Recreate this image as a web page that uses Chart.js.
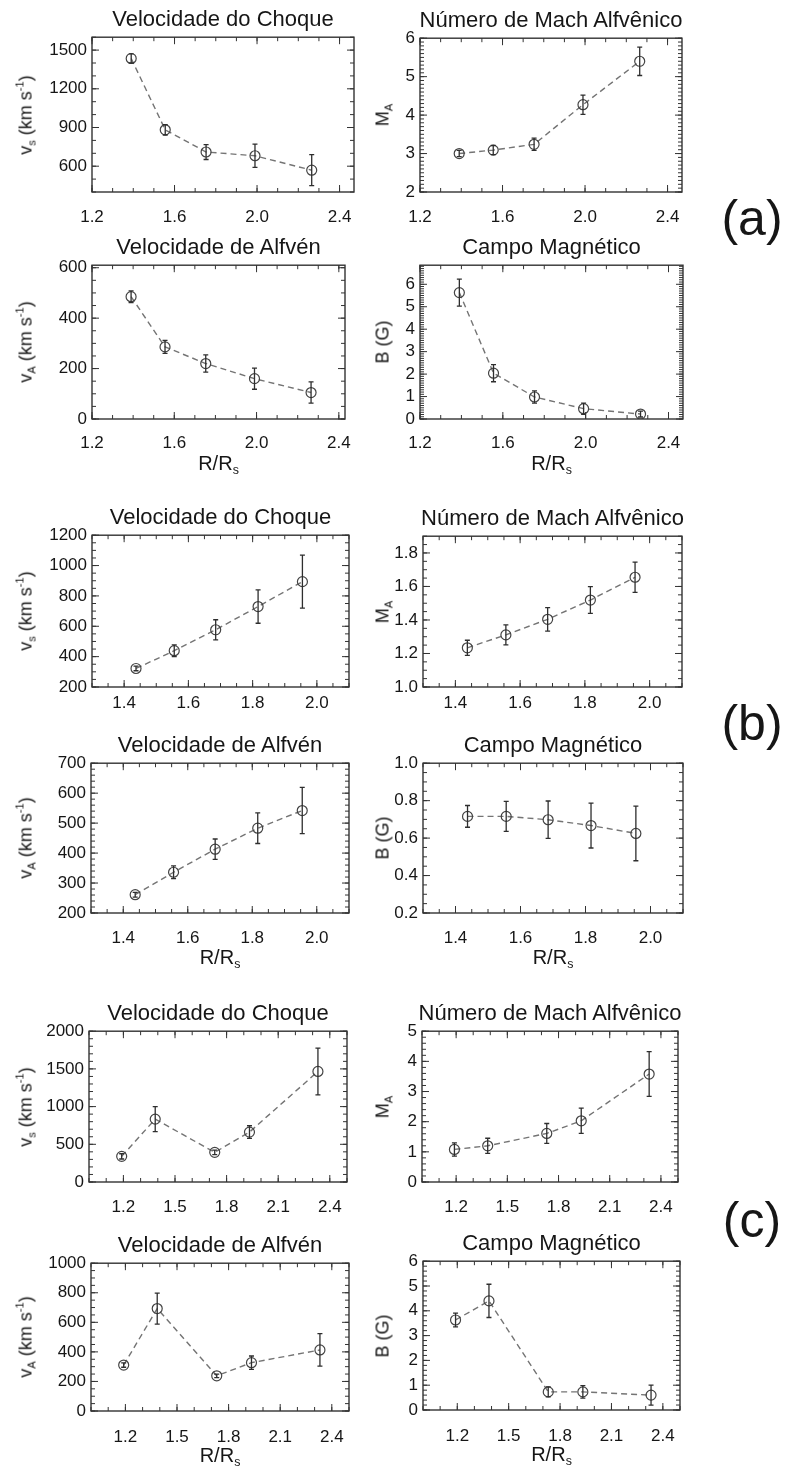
<!DOCTYPE html>
<html>
<head>
<meta charset="utf-8">
<script src="https://cdn.jsdelivr.net/npm/chart.js@4.4.1/dist/chart.umd.min.js"></script>
<style>
  body { margin: 0; background: #fff; width: 785px; height: 1472px; position: relative; overflow: hidden;
         font-family: "Liberation Sans", Arial, Helvetica, sans-serif; color: #161616; }
  canvas { position: absolute; }
  .tit { position: absolute; font-size: 22px; white-space: nowrap; transform: translate(-50%, -50%); }
  .ylab { position: absolute; font-size: 18px; white-space: nowrap; transform: translate(-50%, -50%) rotate(-90deg); }
  .xlab { position: absolute; font-size: 20px; white-space: nowrap; transform: translate(-50%, -50%); }
  .tag { position: absolute; font-size: 50px; transform: translate(-50%, -50%); }
  sub { font-size: 62%; vertical-align: -0.35em; line-height: 0; }
  sup { font-size: 62%; vertical-align: 0.7em; line-height: 0; }
</style>
</head>
<body>
<script>
// ---- (a) ----
const rA = [1.39, 1.555, 1.753, 1.99, 2.265];
const choqueA = [1435, 882, 710, 681, 569];
const errChoqueA = [35, 40, 58, 90, 120];
const machA = [3.0, 3.09, 3.24, 4.27, 5.4];
const errMachA = [0.08, 0.12, 0.16, 0.25, 0.37];
const alfvenA = [485, 286, 220, 160, 105];
const errAlfvenA = [23, 26, 34, 42, 42];
const campoA = [5.63, 2.04, 0.98, 0.46, 0.22];
const errCampoA = [0.6, 0.38, 0.27, 0.25, 0.13];

// ---- (b) ----
const rB = [1.437, 1.556, 1.685, 1.817, 1.955];
const choqueB = [322, 439, 577, 730, 894];
const errChoqueB = [15, 38, 66, 110, 175];
const machB = [1.234, 1.311, 1.404, 1.519, 1.655];
const errMachB = [0.045, 0.06, 0.07, 0.08, 0.09];
const alfvenB = [261, 336, 413, 483, 542];
const errAlfvenB = [8, 21, 34, 51, 77];
const campoB = [0.716, 0.716, 0.698, 0.667, 0.625];
const errCampoB = [0.058, 0.08, 0.1, 0.12, 0.146];

// ---- (c) ----
const rC = [1.19, 1.385, 1.731, 1.933, 2.331];
const choqueC = [340, 834, 393, 662, 1466];
const errChoqueC = [35, 165, 30, 84, 310];
const machC = [1.08, 1.2, 1.61, 2.03, 3.58];
const errMachC = [0.22, 0.25, 0.33, 0.42, 0.74];
const alfvenC = [311, 693, 238, 327, 413];
const errAlfvenC = [15, 105, 12, 45, 110];
const campoC = [3.63, 4.4, 0.73, 0.73, 0.6];
const errCampoC = [0.28, 0.67, 0.2, 0.25, 0.4];

// ticks
const xTicksA = [1.2, 1.6, 2.0, 2.4];
const xTicksB = [1.4, 1.6, 1.8, 2.0];
const xTicksC = [1.2, 1.5, 1.8, 2.1, 2.4];
const tChoqueA = [600, 900, 1200, 1500];
const tMachA = [2, 3, 4, 5, 6];
const tAlfvenA = [0, 200, 400, 600];
const tCampoA = [0, 1, 2, 3, 4, 5, 6];
const tChoqueB = [200, 400, 600, 800, 1000, 1200];
const tMachB = [1.0, 1.2, 1.4, 1.6, 1.8];
const tAlfvenB = [200, 300, 400, 500, 600, 700];
const tCampoB = [0.2, 0.4, 0.6, 0.8, 1.0];
const tChoqueC = [0, 500, 1000, 1500, 2000];
const tMachC = [0, 1, 2, 3, 4, 5];
const tAlfvenC = [0, 200, 400, 600, 800, 1000];
const tCampoC = [0, 1, 2, 3, 4, 5, 6];

const tChoque = 'Velocidade do Choque';
const tMach = 'Número de Mach Alfvênico';
const tAlfven = 'Velocidade de Alfvén';
const tCampo = 'Campo Magnético';
const labVs = 'v<sub>s</sub> (km s<sup>-1</sup>)';
const labMa = 'M<sub>A</sub>';
const labVa = 'v<sub>A</sub> (km s<sup>-1</sup>)';
const labB = 'B (G)';
const labR = 'R/R<sub>s</sub>';

Chart.defaults.font.family = '"Liberation Sans", Arial, Helvetica, sans-serif';
Chart.defaults.font.size = 17;
Chart.defaults.color = '#161616';

// caixa fechada com marcas para dentro + barras de erro
const moldura = {
  id: 'moldura',
  afterDatasetsDraw(chart, args, o) {
    const { ctx, chartArea: a } = chart;
    const sx = chart.scales.x, sy = chart.scales.y;
    const pts = chart.data.datasets[0].data;
    ctx.save();
    ctx.strokeStyle = '#2e2e2e';
    ctx.lineWidth = 1.3;
    pts.forEach((p, i) => {
      const px = sx.getPixelForValue(p.x);
      const y1 = sy.getPixelForValue(p.y - o.err[i]);
      const y2 = sy.getPixelForValue(p.y + o.err[i]);
      ctx.beginPath();
      ctx.moveTo(px, y1); ctx.lineTo(px, y2);
      ctx.moveTo(px - 2.5, y1); ctx.lineTo(px + 2.5, y1);
      ctx.moveTo(px - 2.5, y2); ctx.lineTo(px + 2.5, y2);
      ctx.stroke();
    });
    ctx.strokeStyle = '#333';
    ctx.lineWidth = 1.4;
    ctx.strokeRect(a.left, a.top, a.right - a.left, a.bottom - a.top);
    ctx.lineWidth = 1;
    const marcas = (scale, step, majors) => {
      const out = [];
      const k0 = Math.ceil(scale.min / step - 1e-6), k1 = Math.floor(scale.max / step + 1e-6);
      for (let k = k0; k <= k1; k++) out.push([k * step, 4]);
      majors.forEach(v => out.push([v, 7]));
      return out;
    };
    ctx.beginPath();
    marcas(sx, o.xm, o.xt).forEach(([v, len]) => {
      const px = sx.getPixelForValue(v);
      ctx.moveTo(px, a.bottom); ctx.lineTo(px, a.bottom - len);
      ctx.moveTo(px, a.top); ctx.lineTo(px, a.top + len);
    });
    marcas(sy, o.ym, o.yt).forEach(([v, len]) => {
      const py = sy.getPixelForValue(v);
      ctx.moveTo(a.left, py); ctx.lineTo(a.left + len, py);
      ctx.moveTo(a.right, py); ctx.lineTo(a.right - len, py);
    });
    ctx.stroke();
    ctx.restore();
  }
};

const paineis = [
  { box: [92, 37, 354, 192], x: rA, y: choqueA, e: errChoqueA, xr: [1.2, 2.47], yr: [400, 1600], xt: xTicksA, yt: tChoqueA, xm: 0.1, ym: 100, tit: tChoque, yl: labVs, pad: 15 },
  { box: [420, 38, 682, 192], x: rA, y: machA, e: errMachA, xr: [1.2, 2.47], yr: [2, 6], xt: xTicksA, yt: tMachA, xm: 0.1, ym: 0.1, tit: tMach, yl: labMa, pad: 15 },
  { box: [92, 265, 345, 419], x: rA, y: alfvenA, e: errAlfvenA, xr: [1.2, 2.43], yr: [0, 610], xt: xTicksA, yt: tAlfvenA, xm: 0.1, ym: 50, tit: tAlfven, yl: labVa, pad: 14, xl: true },
  { box: [420, 265, 683, 419], x: rA, y: campoA, e: errCampoA, xr: [1.2, 2.47], yr: [0, 6.85], xt: xTicksA, yt: tCampoA, xm: 0.1, ym: 0.1, tit: tCampo, yl: labB, pad: 14, xl: true },

  { box: [92, 535, 349, 687], x: rB, y: choqueB, e: errChoqueB, xr: [1.3, 2.1], yr: [200, 1200], xt: xTicksB, yt: tChoqueB, xm: 0.05, ym: 50, tit: tChoque, yl: labVs, pad: 6 },
  { box: [423, 536, 682, 687], x: rB, y: machB, e: errMachB, xr: [1.3, 2.1], yr: [1.0, 1.9], xt: xTicksB, yt: tMachB, xm: 0.05, ym: 0.05, tit: tMach, yl: labMa, pad: 6 },
  { box: [91, 763, 349, 913], x: rB, y: alfvenB, e: errAlfvenB, xr: [1.3, 2.1], yr: [200, 700], xt: xTicksB, yt: tAlfvenB, xm: 0.05, ym: 20, tit: tAlfven, yl: labVa, pad: 15, xl: true },
  { box: [423, 763, 683, 913], x: rB, y: campoB, e: errCampoB, xr: [1.3, 2.1], yr: [0.2, 1.0], xt: xTicksB, yt: tCampoB, xm: 0.05, ym: 0.05, tit: tCampo, yl: labB, pad: 15, xl: true },

  { box: [89, 1031, 347, 1182], x: rC, y: choqueC, e: errChoqueC, xr: [1.0, 2.5], yr: [0, 2000], xt: xTicksC, yt: tChoqueC, xm: 0.1, ym: 100, tit: tChoque, yl: labVs, pad: 15 },
  { box: [422, 1031, 678, 1182], x: rC, y: machC, e: errMachC, xr: [1.0, 2.5], yr: [0, 5], xt: xTicksC, yt: tMachC, xm: 0.1, ym: 0.2, tit: tMach, yl: labMa, pad: 15 },
  { box: [91, 1263, 349, 1411], x: rC, y: alfvenC, e: errAlfvenC, xr: [1.0, 2.5], yr: [0, 1000], xt: xTicksC, yt: tAlfvenC, xm: 0.1, ym: 50, tit: tAlfven, yl: labVa, pad: 16, xl: true },
  { box: [423, 1261, 680, 1410], x: rC, y: campoC, e: errCampoC, xr: [1.0, 2.5], yr: [0, 6], xt: xTicksC, yt: tCampoC, xm: 0.1, ym: 0.2, tit: tCampo, yl: labB, pad: 16, xl: true }
];

function texto(cls, html, x, y) {
  const d = document.createElement('div');
  d.className = cls;
  d.innerHTML = html;
  d.style.left = x + 'px';
  d.style.top = y + 'px';
  document.body.appendChild(d);
}

const dec = arr => (arr[1] - arr[0] < 1 ? 1 : 0);

paineis.forEach(p => {
  const [l, t, r, b] = p.box;
  const cv = document.createElement('canvas');
  cv.width = (r - l) + 100;
  cv.height = (b - t) + 55;
  cv.style.left = (l - 70) + 'px';
  cv.style.top = (t - 15) + 'px';
  document.body.appendChild(cv);

  const dx = dec(p.xt), dy = dec(p.yt);
  new Chart(cv, {
    type: 'scatter',
    data: {
      datasets: [{
        data: p.x.map((v, i) => ({ x: v, y: p.y[i] })),
        showLine: true,
        borderColor: '#747474',
        borderWidth: 1.4,
        borderDash: [6, 4],
        pointRadius: 5,
        pointBorderWidth: 1.2,
        pointBorderColor: '#444',
        pointBackgroundColor: 'rgba(0,0,0,0)'
      }]
    },
    options: {
      responsive: false,
      animation: false,
      events: [],
      layout: { padding: { top: 15, right: 30, left: 0, bottom: 0 } },
      plugins: {
        legend: { display: false },
        tooltip: { enabled: false },
        moldura: { err: p.e, xt: p.xt, yt: p.yt, xm: p.xm, ym: p.ym }
      },
      scales: {
        x: {
          type: 'linear', min: p.xr[0], max: p.xr[1],
          grid: { display: false, drawTicks: false }, border: { display: false },
          afterFit: s => { s.height = 40; },
          afterBuildTicks: s => { s.ticks = p.xt.map(v => ({ value: v })); },
          ticks: { padding: p.pad, autoSkip: false, maxRotation: 0, callback: v => v.toFixed(dx) }
        },
        y: {
          type: 'linear', min: p.yr[0], max: p.yr[1],
          grid: { display: false, drawTicks: false }, border: { display: false },
          afterFit: s => { s.width = 70; },
          afterBuildTicks: s => { s.ticks = p.yt.map(v => ({ value: v })); },
          ticks: { padding: 5, autoSkip: false, callback: v => v.toFixed(dy) }
        }
      }
    },
    plugins: [moldura]
  });

  texto('tit', p.tit, (l + r) / 2, t - 18);
  texto('ylab', p.yl, l < 200 ? 26 : 383, (t + b) / 2);
  if (p.xl) texto('xlab', labR, (l + r) / 2, b + 44);
});

texto('tag', '(a)', 752, 218);
texto('tag', '(b)', 752, 723);
texto('tag', '(c)', 752, 1220);
</script>
</body>
</html>
